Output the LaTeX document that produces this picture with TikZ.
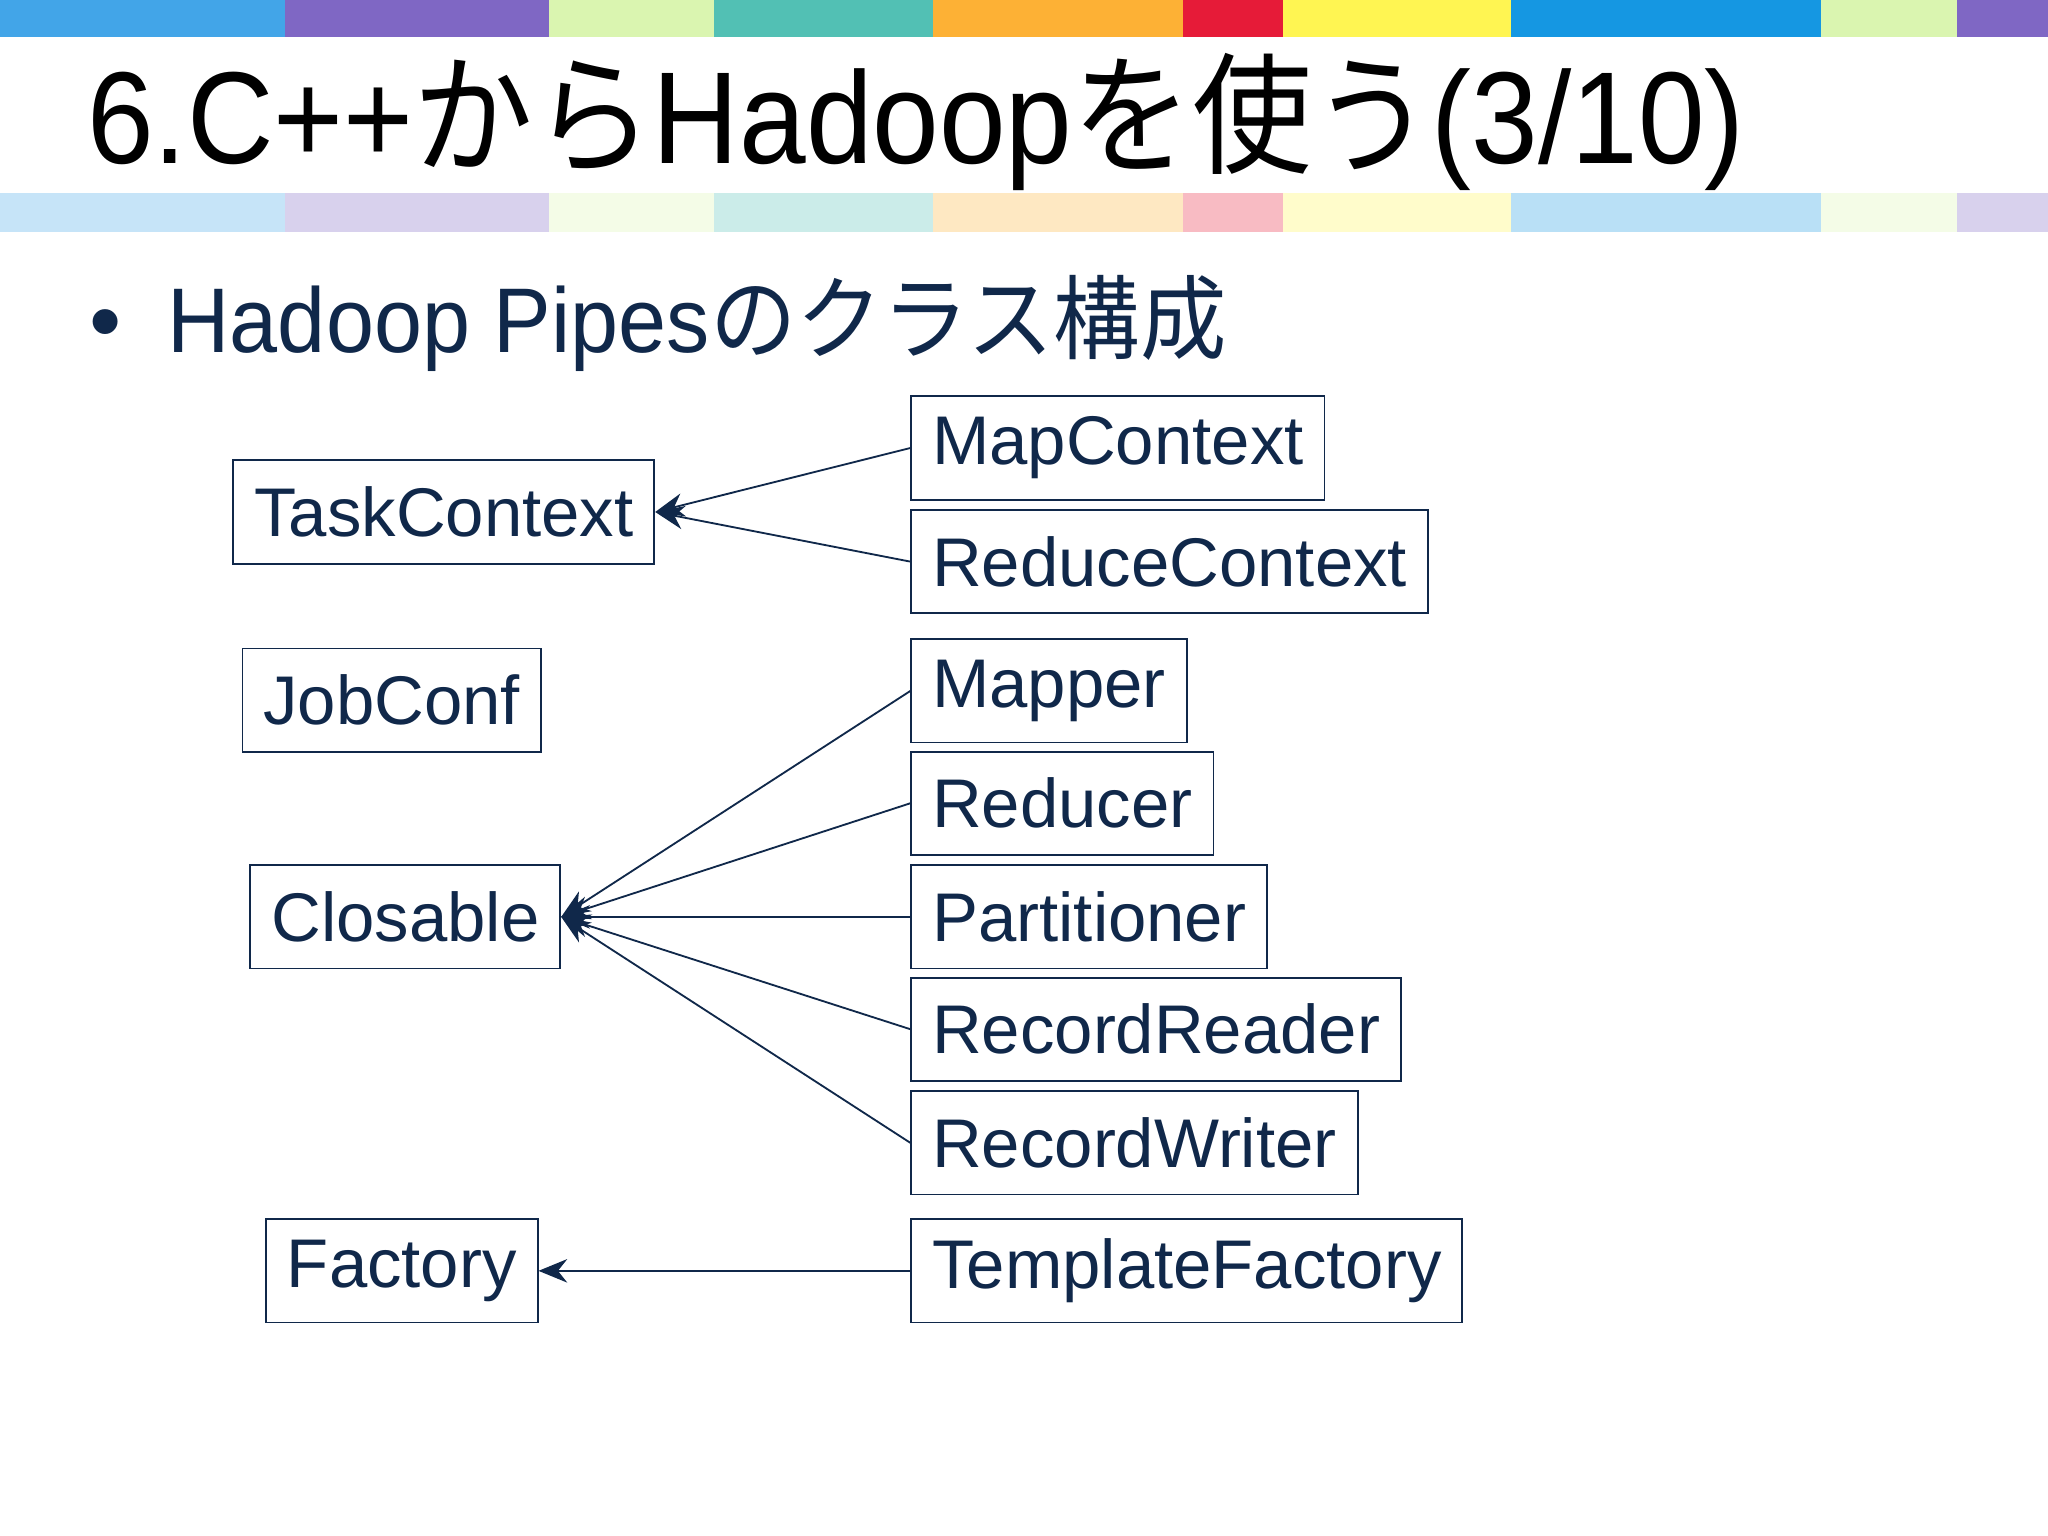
\documentclass[tikz,border=0pt]{standalone}
\usepackage{fontspec}
\setmainfont{Liberation Sans}
\newfontfamily\cjk{Noto Sans CJK JP}
\usetikzlibrary{arrows.meta}
\definecolor{navy}{HTML}{10284A}
\tikzset{box/.style={draw=navy,text=navy,anchor=west,minimum height=0.79cm,inner xsep=0.16cm,
		font=\fontsize{15}{16}\selectfont},
		inherit/.style={draw=navy,-{Stealth[length=2.2mm,width=1.8mm]}}}
\begin{document}
\begin{tikzpicture}[x=0.01cm,y=-0.01cm]
	\useasboundingbox (0,0) rectangle (1568,1176);
	% colour bands
	\foreach \a/\b/\c in {0/218/42A5E8,218/420/7F67C4,420/547/DAF5B0,547/714/52C0B4,714/906/FDB135,906/982/E61B38,982/1157/FFF552,1157/1394/1597E2,1394/1498/DAF5B0,1498/1568/7F67C4}
	{
		\definecolor{band}{HTML}{\c}
		\fill[band] (\a,0) rectangle (\b,28);
		\fill[band!30] (\a,148) rectangle (\b,178);
	}
	\node[anchor=base west,inner sep=0,font=\fontsize{28.5}{30}\selectfont] (title) at (66,125)
		{\scalebox{0.915}[1]{6.C++{\cjk から}Hadoop{\cjk を使う}(3/10)}};
	\node[anchor=base west,inner sep=0,text=navy,font=\fontsize{20}{22}\selectfont] (sub) at (68,270)
		{•\hspace{0.35cm}\scalebox{0.94}[1]{Hadoop Pipes{\cjk のクラス構成}}};

	\node[box] (tc) at (178,392) {TaskContext};
	\node[box] (mc) at (697,343) {MapContext};
	\node[box] (rc) at (697,430) {ReduceContext};
	\node[box] (jc) at (185,536) {JobConf};
	\node[box] (cl) at (191,702) {Closable};
	\node[box] (fa) at (203,973) {Factory};
	\node[box] (tf) at (697,973) {TemplateFactory};
	\foreach \n/\t/\y in {ma/Mapper/529,re/Reducer/615,pa/Partitioner/702,rr/RecordReader/788,rw/RecordWriter/875}
	{
		\node[box] (\n) at (697,\y) {\t};
		\draw[inherit] (\n.west) -- (cl.east);
	}
	\draw[inherit] (mc.west) -- (tc.east);
	\draw[inherit] (rc.west) -- (tc.east);
	\draw[inherit] (tf.west) -- (fa.east);
\end{tikzpicture}
\end{document}
